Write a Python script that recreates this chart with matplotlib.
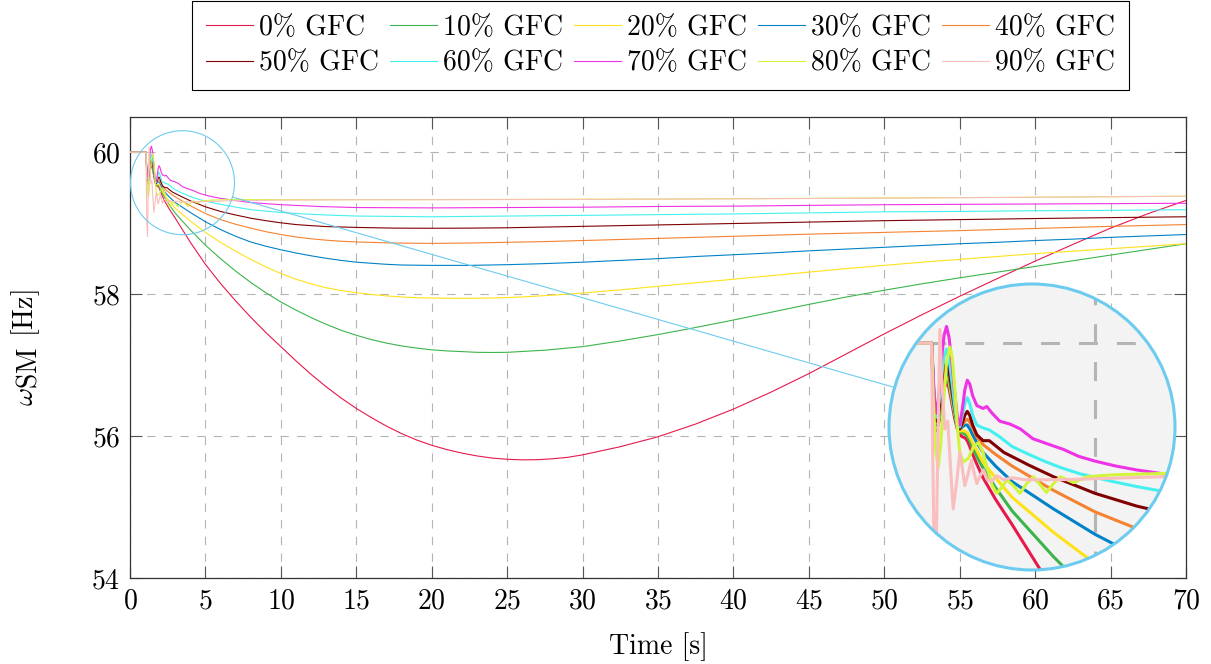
import matplotlib
matplotlib.use("Agg")
import matplotlib.pyplot as plt
import matplotlib._mathtext as _mathtext
from matplotlib.patches import Circle, Ellipse
from matplotlib.lines import Line2D
import numpy as np

plt.rcParams["font.family"] = "cmr10"
plt.rcParams["mathtext.fontset"] = "cm"
plt.rcParams["axes.formatter.use_mathtext"] = True
plt.rcParams["font.size"] = 20
# subscript "SM" is set at full size in the original (\mbox style)
_mathtext.SHRINK_FACTOR = 1.0

# ── Data ─────────────────────────────────────────────────────────────────────
LABELS = ["0% GFC", "10% GFC", "20% GFC", "30% GFC", "40% GFC",
          "50% GFC", "60% GFC", "70% GFC", "80% GFC", "90% GFC"]
COLORS = ["#e6194b", "#3cb44b", "#ffe119", "#0082c8", "#f58231",
          "#800000", "#46f0f0", "#f032e6", "#d2f53c", "#fabebe"]

# fault transient, shared time stamps for the 0-70 % cases
T_FAULT = [0, 1.06, 1.09, 1.13, 1.18, 1.24, 1.30, 1.36, 1.42, 1.48, 1.55,
           1.62, 1.68, 1.74, 1.80, 1.86, 1.92, 1.98, 2.05, 2.15, 2.3]

T_0 = T_FAULT + [2.6, 3.0, 3.5, 4, 5, 6, 7, 8, 9, 10, 11, 12, 13, 14, 15, 16,
                 17, 18, 19, 20, 21, 22, 23, 24, 25, 26, 27, 28, 29, 30, 32.5,
                 35, 37.5, 40, 42.5, 45, 47.5, 50, 52.5, 55, 57.5, 60, 62.5,
                 65, 67.5, 70]
F_0 = [60, 60, 59.80, 59.62, 59.55, 59.60, 59.70, 59.77, 59.80, 59.77, 59.69,
       59.61, 59.56, 59.53, 59.52, 59.515, 59.50, 59.47, 59.43, 59.38, 59.31,
       59.20, 59.07, 58.90, 58.73, 58.42, 58.15, 57.905, 57.675, 57.46, 57.26,
       57.06, 56.87, 56.695, 56.535, 56.39, 56.26, 56.14, 56.035, 55.945,
       55.87, 55.81, 55.76, 55.72, 55.69, 55.673, 55.665, 55.667, 55.68, 55.70,
       55.735, 55.85, 55.99, 56.17, 56.38, 56.62, 56.88, 57.16, 57.44, 57.71,
       57.97, 58.22, 58.465, 58.70, 58.93, 59.135, 59.32]

T_10 = T_FAULT + [2.6, 3.0, 4, 5, 6, 7, 8, 9, 10, 11, 12, 13, 14, 15, 16, 17,
                  18, 19, 20, 21, 22, 23, 24, 25, 27.5, 30, 32.5, 35, 37.5, 40,
                  42.5, 45, 47.5, 50, 52.5, 55, 57.5, 60, 62.5, 65, 67.5, 70]
F_10 = [60, 60, 59.81, 59.63, 59.56, 59.61, 59.71, 59.79, 59.82, 59.79, 59.71,
        59.63, 59.57, 59.545, 59.54, 59.535, 59.525, 59.50, 59.465, 59.42,
        59.36, 59.26, 59.14, 58.905, 58.69, 58.50, 58.325, 58.165, 58.02,
        57.89, 57.775, 57.67, 57.575, 57.49, 57.42, 57.36, 57.31, 57.27, 57.24,
        57.215, 57.20, 57.19, 57.18, 57.178, 57.18, 57.21, 57.26, 57.34, 57.43,
        57.53, 57.635, 57.745, 57.855, 57.96, 58.055, 58.145, 58.23, 58.31,
        58.39, 58.47, 58.55, 58.63, 58.71]

T_20 = T_FAULT + [2.6, 3.0, 4, 5, 6, 7, 8, 9, 10, 11, 12, 13, 14, 15, 16, 17,
                  18, 19, 20, 22, 24, 26, 28, 30, 32.5, 35, 37.5, 40, 42.5, 45,
                  47.5, 50, 52.5, 55, 57.5, 60, 62.5, 65, 67.5, 70]
F_20 = [60, 60, 59.82, 59.64, 59.57, 59.62, 59.72, 59.81, 59.84, 59.81, 59.72,
        59.64, 59.58, 59.55, 59.55, 59.55, 59.54, 59.52, 59.49, 59.45, 59.39,
        59.31, 59.21, 59.03, 58.87, 58.73, 58.605, 58.49, 58.385, 58.29, 58.21,
        58.145, 58.09, 58.05, 58.02, 57.995, 57.975, 57.96, 57.95, 57.945,
        57.94, 57.945, 57.96, 57.985, 58.015, 58.06, 58.11, 58.16, 58.21, 58.26,
        58.31, 58.36, 58.405, 58.45, 58.49, 58.53, 58.57, 58.605, 58.64, 58.675,
        58.71]

T_30 = T_FAULT + [2.6, 3.0, 4, 5, 6, 7, 8, 9, 10, 11, 12, 13, 14, 15, 16, 17,
                  18, 20, 22.5, 25, 27.5, 30, 32.5, 35, 37.5, 40, 42.5, 45,
                  47.5, 50, 52.5, 55, 57.5, 60, 62.5, 65, 67.5, 70]
F_30 = [60, 60, 59.83, 59.65, 59.58, 59.63, 59.73, 59.83, 59.86, 59.83, 59.74,
        59.65, 59.585, 59.56, 59.57, 59.58, 59.58, 59.56, 59.53, 59.49, 59.44,
        59.37, 59.29, 59.15, 59.02, 58.91, 58.815, 58.735, 58.675, 58.625,
        58.58, 58.54, 58.505, 58.475, 58.45, 58.435, 58.42, 58.41, 58.405,
        58.405, 58.415, 58.43, 58.45, 58.475, 58.50, 58.53, 58.555, 58.58,
        58.61, 58.635, 58.66, 58.685, 58.71, 58.73, 58.755, 58.775, 58.80,
        58.82, 58.84]

T_40 = T_FAULT + [2.6, 3.0, 4, 5, 6, 7, 8, 9, 10, 11, 12, 13, 14, 15, 17.5, 20,
                  22.5, 25, 27.5, 30, 35, 40, 45, 50, 55, 60, 65, 70]
F_40 = [60, 60, 59.84, 59.66, 59.59, 59.64, 59.75, 59.85, 59.88, 59.85, 59.75,
        59.66, 59.59, 59.565, 59.58, 59.60, 59.61, 59.595, 59.565, 59.52, 59.48,
        59.43, 59.37, 59.245, 59.135, 59.05, 58.985, 58.93, 58.88, 58.84,
        58.805, 58.78, 58.76, 58.745, 58.735, 58.72, 58.715, 58.72, 58.73,
        58.74, 58.755, 58.785, 58.815, 58.845, 58.87, 58.895, 58.925, 58.955,
        58.98]

T_50 = T_FAULT + [2.45, 2.8, 3.4, 4, 5, 6, 7, 8, 9, 10, 11, 12, 13, 15, 17.5,
                  20, 22.5, 25, 30, 35, 40, 45, 50, 55, 60, 65, 70]
F_50 = [60, 60, 59.85, 59.67, 59.60, 59.66, 59.77, 59.87, 59.90, 59.86, 59.76,
        59.66, 59.59, 59.56, 59.59, 59.63, 59.65, 59.63, 59.58, 59.53, 59.50,
        59.50, 59.44, 59.375, 59.315, 59.23, 59.165, 59.115, 59.07, 59.035,
        59.005, 58.98, 58.965, 58.952, 58.94, 58.93, 58.928, 58.93, 58.935,
        58.955, 58.975, 58.995, 59.015, 59.035, 59.05, 59.065, 59.078, 59.09]

T_60 = T_FAULT + [2.45, 2.7, 3.0, 3.4, 3.83, 4.2, 4.64, 5.44, 6.0, 6.9, 8.0,
                  9.0, 10, 11.5, 13, 15, 17.5, 20, 25, 30, 35, 40, 45, 50, 55,
                  60, 65, 70]
F_60 = [60, 60, 59.86, 59.69, 59.62, 59.70, 59.83, 59.93, 59.97, 59.92, 59.80,
        59.67, 59.58, 59.57, 59.63, 59.69, 59.72, 59.69, 59.63, 59.58, 59.565,
        59.555, 59.52, 59.47, 59.43, 59.39, 59.36, 59.33, 59.29, 59.265, 59.23,
        59.19, 59.17, 59.15, 59.13, 59.115, 59.10, 59.095, 59.09, 59.10, 59.11,
        59.12, 59.13, 59.145, 59.16, 59.165, 59.175, 59.18, 59.19]

T_70 = T_FAULT + [2.39, 2.52, 2.7, 2.95, 3.2, 3.5, 3.9, 4.24, 4.6, 5.0, 5.5,
                  6.0, 6.65, 8.0, 10, 12.5, 15, 20, 25, 30, 35, 40, 45, 50, 55,
                  60, 65, 70]
F_70 = [60, 60, 59.87, 59.70, 59.64, 59.75, 59.92, 60.04, 60.085, 60.03, 59.90,
        59.74, 59.62, 59.58, 59.66, 59.76, 59.81, 59.79, 59.73, 59.68, 59.665,
        59.675, 59.64, 59.60, 59.585, 59.56, 59.51, 59.48, 59.455, 59.42,
        59.395, 59.37, 59.35, 59.33, 59.29, 59.26, 59.235, 59.22, 59.215, 59.22,
        59.225, 59.235, 59.24, 59.25, 59.26, 59.265, 59.27, 59.275, 59.28]

T_80 = [0, 1.06, 1.10, 1.16, 1.22, 1.28, 1.35, 1.42, 1.50, 1.56, 1.62, 1.68,
        1.74, 1.82, 1.95, 2.07, 2.19, 2.3, 2.4, 2.52, 2.63, 2.75, 2.87, 3.03,
        3.19, 3.35, 3.51, 3.67, 3.83, 4.0, 4.16, 4.32, 4.48, 4.64, 4.80, 5.1,
        5.44, 6.65, 10, 15, 20, 25, 30, 35, 40, 45, 50, 55, 60, 65, 70]
F_80 = [60, 60, 59.72, 59.45, 59.36, 59.48, 59.70, 59.90, 59.98, 59.92, 59.76,
        59.57, 59.44, 59.39, 59.41, 59.47, 59.49, 59.44, 59.36, 59.27, 59.23,
        59.26, 59.30, 59.27, 59.23, 59.28, 59.315, 59.275, 59.235, 59.28,
        59.315, 59.30, 59.285, 59.30, 59.315, 59.32, 59.325, 59.332, 59.33,
        59.33, 59.332, 59.335, 59.338, 59.34, 59.345, 59.35, 59.355, 59.36,
        59.365, 59.372, 59.38]

T_90 = [0, 1.06, 1.09, 1.12, 1.16, 1.21, 1.26, 1.32, 1.38, 1.45, 1.52, 1.58,
        1.66, 1.74, 1.80, 1.86, 1.94, 2.02, 2.08, 2.15, 2.23, 2.31, 2.40, 2.50,
        2.63, 2.80, 3.0, 3.3, 3.7, 4.2, 5.0, 6.6, 10, 15, 20, 25, 30, 40, 50,
        60, 70]
F_90 = [60, 60, 59.40, 58.95, 58.81, 59.45, 60.07, 59.75, 59.56, 59.60, 59.35,
        59.15, 59.28, 59.44, 59.36, 59.27, 59.33, 59.40, 59.34, 59.28, 59.32,
        59.35, 59.30, 59.29, 59.32, 59.30, 59.31, 59.30, 59.30, 59.30, 59.305,
        59.315, 59.325, 59.33, 59.33, 59.332, 59.335, 59.342, 59.352, 59.365,
        59.38]

TIMES = [T_0, T_10, T_20, T_30, T_40, T_50, T_60, T_70, T_80, T_90]
FREQS = [F_0, F_10, F_20, F_30, F_40, F_50, F_60, F_70, F_80, F_90]

XTICKS = list(range(0, 71, 5))
YTICKS = [54, 56, 58, 60]

# spy (magnifier) settings
SPY_COLOR = "#6ccbef"
SPY_CENTER = (3.48, 59.57)
SPY_HALF_X = 3.447
SPY_HALF_Y = 0.7327
GRID_COLOR = "#b4b4b4"

# ── Figure ───────────────────────────────────────────────────────────────────
W, H = 1211, 664
fig = plt.figure(figsize=(W / 100, H / 100), dpi=100)
ax = fig.add_axes([130 / W, 1 - 578 / H, 1056 / W, 461.3 / H])

handles = []
for t, f, c, lab in zip(TIMES, FREQS, COLORS, LABELS):
    ln, = ax.plot(t, f, color=c, lw=0.8, label=lab, zorder=3)
    handles.append(ln)

ax.set_xlim(0, 70)
ax.set_ylim(54, 60.5)
ax.set_xticks(XTICKS)
ax.set_yticks(YTICKS)
ax.tick_params(direction="in", length=8.5, width=0.8, color="#555555",
               top=True, right=True, pad=7, labelsize=20)
ax.grid(True, color=GRID_COLOR, linewidth=0.8, dashes=(7.5, 7.5))
ax.set_axisbelow(True)
for sp in ax.spines.values():
    sp.set_linewidth(0.9)
    sp.set_color("#333333")

ax.set_xlabel("Time [s]", fontsize=20)
ax.xaxis.set_label_coords(0.5, -0.118)
ax.set_ylabel(r"$\omega_{\mathrm{SM}}$ [Hz]", fontsize=20)
ax.yaxis.set_label_coords(-0.083, 0.5)

# legend, row-wise order
order = [0, 5, 1, 6, 2, 7, 3, 8, 4, 9]
leg = fig.legend([handles[i] for i in order], [LABELS[i] for i in order],
                 ncol=5, loc="upper center", bbox_to_anchor=(660.5 / W, 1 - 1 / H),
                 frameon=True, fancybox=False, edgecolor="black", framealpha=1,
                 fontsize=20, handlelength=1.7, handletextpad=0.2,
                 columnspacing=0.4, borderaxespad=0, borderpad=0.5,
                 labelspacing=0.32)
leg.get_frame().set_linewidth(0.8)

# small spy circle
ax.add_patch(Ellipse(SPY_CENTER, 2 * SPY_HALF_X, 2 * SPY_HALF_Y, fill=False,
                     edgecolor=SPY_COLOR, lw=0.8, clip_on=False, zorder=6))

# magnified view
ins = fig.add_axes([889 / W, 1 - 570 / H, 286 / W, 286 / H], zorder=3)
ins.set_xlim(SPY_CENTER[0] - SPY_HALF_X, SPY_CENTER[0] + SPY_HALF_X)
ins.set_ylim(SPY_CENTER[1] - SPY_HALF_Y, SPY_CENTER[1] + SPY_HALF_Y)
ins.axis("off")
bg = Circle((0.5, 0.5), 0.5, transform=ins.transAxes, facecolor="#f3f3f3",
            edgecolor="none", zorder=0)
ins.add_patch(bg)
for xv in XTICKS:
    gl = ins.axvline(xv, color=GRID_COLOR, lw=2.2, dashes=(6.2, 6.2), zorder=1)
    gl.set_clip_path(bg)
for yv in YTICKS:
    gl = ins.axhline(yv, color=GRID_COLOR, lw=2.2, dashes=(6.2, 6.2), zorder=1)
    gl.set_clip_path(bg)
for t, f, c in zip(TIMES, FREQS, COLORS):
    ln, = ins.plot(t, f, color=c, lw=2.2, zorder=3)
    ln.set_clip_path(bg)
ins.add_patch(Circle((0.5, 0.5), 0.5, transform=ins.transAxes, fill=False,
                     edgecolor=SPY_COLOR, lw=2.2, zorder=5, clip_on=False))

# connecting line between the two circles
p_s = ax.transData.transform(SPY_CENTER)
r_s = ax.transData.transform((SPY_CENTER[0] + SPY_HALF_X, SPY_CENTER[1]))[0] - p_s[0]
p_b = ins.transAxes.transform((0.5, 0.5))
r_b = ins.transAxes.transform((1.0, 0.5))[0] - p_b[0]
d = (p_b - p_s) / np.hypot(*(p_b - p_s))
a = fig.transFigure.inverted().transform(p_s + r_s * d)
b = fig.transFigure.inverted().transform(p_b - r_b * d)
fig.add_artist(Line2D([a[0], b[0]], [a[1], b[1]], color=SPY_COLOR, lw=0.8,
                      transform=fig.transFigure, zorder=2))

fig.savefig("out.png", dpi=100)
